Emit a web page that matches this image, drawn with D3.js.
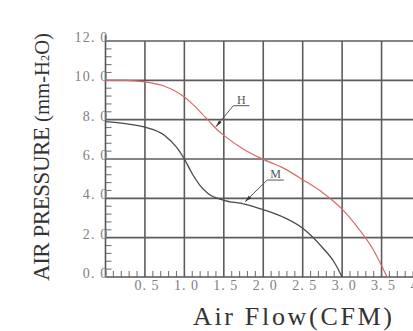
<!DOCTYPE html>
<html>
<head>
<meta charset="utf-8">
<script src="https://cdn.jsdelivr.net/npm/d3@7"></script>
<style>
  body { margin: 0; background: #fff; }
  svg { display: block; }
</style>
</head>
<body>
<div id="chart"></div>
<script>
// 曲线数据 (CFM, mm-H2O)
const flowH = [0, 0.25, 0.5, 0.75, 1.0, 1.1, 1.2, 1.3, 1.4, 1.5, 1.75, 2.0, 2.25, 2.5, 2.75, 3.0, 3.2, 3.4, 3.57];
const pressH = [10.0, 10.0, 9.92, 9.7, 9.15, 8.8, 8.4, 7.98, 7.55, 7.2, 6.5, 5.98, 5.55, 4.95, 4.3, 3.45, 2.5, 1.35, 0];

const flowM = [0, 0.25, 0.5, 0.75, 0.9, 1.0, 1.1, 1.2, 1.3, 1.5, 1.75, 2.0, 2.25, 2.5, 2.75, 2.9, 3.0];
const pressM = [7.9, 7.8, 7.62, 7.2, 6.6, 6.0, 5.25, 4.65, 4.25, 3.9, 3.72, 3.42, 3.05, 2.48, 1.5, 0.75, 0];

const xTicks = [0.5, 1.0, 1.5, 2.0, 2.5, 3.0, 3.5, 4.0];
const yTicks = [0, 2, 4, 6, 8, 10, 12];
const xTickLabels = ["0. 5", "1. 0", "1. 5", "2. 0", "2. 5", "3. 0", "3. 5", "4. 0"];
const yTickLabels = ["0. 0", "2. 0", "4. 0", "6. 0", "8. 0", "10. 0", "12. 0"];

// 标注: 箭头尖端, 折点, 下划线末端 (数据坐标)
const labelNames = ["H", "M"];
const labelTip = [[1.40, 7.64], [1.77, 3.83]];
const labelElbow = [[1.62, 8.71], [2.05, 4.93]];
const labelEnd = [1.825, 2.26];

const W = 413, H = 331;
const svg = d3.select("#chart").append("svg")
    .attr("width", W)
    .attr("height", H);

const x = d3.scaleLinear().domain([0, 4]).range([105.5, 421]);
const y = d3.scaleLinear().domain([0, 12]).range([277, 41]);

const gridColor = "#5c5c5c";

// 网格
svg.append("g")
    .selectAll("line")
    .data(yTicks.filter(d => d > 0))
    .join("line")
    .attr("x1", x(0)).attr("x2", x(4))
    .attr("y1", d => y(d)).attr("y2", d => y(d))
    .attr("stroke", gridColor)
    .attr("stroke-width", 1.6);

svg.append("g")
    .selectAll("line")
    .data(xTicks)
    .join("line")
    .attr("x1", d => x(d)).attr("x2", d => x(d))
    .attr("y1", y(12)).attr("y2", y(0))
    .attr("stroke", gridColor)
    .attr("stroke-width", 1.6);

// 小刻度
const xMinor = d3.range(1, 40).filter(i => i % 5 !== 0).map(i => i / 10);
svg.append("g")
    .selectAll("line")
    .data(xMinor)
    .join("line")
    .attr("x1", d => x(d)).attr("x2", d => x(d))
    .attr("y1", y(0)).attr("y2", y(0) - 6)
    .attr("stroke", "#777")
    .attr("stroke-width", 1.1);

const yMinor = d3.range(1, 30).filter(i => i % 5 !== 0).map(i => i * 0.4);
svg.append("g")
    .selectAll("line")
    .data(yMinor)
    .join("line")
    .attr("x1", x(0)).attr("x2", x(0) + 6)
    .attr("y1", d => y(d)).attr("y2", d => y(d))
    .attr("stroke", "#777")
    .attr("stroke-width", 1.1);

// 坐标轴
svg.append("line")
    .attr("x1", x(0)).attr("x2", x(0))
    .attr("y1", y(12) - 6).attr("y2", y(0))
    .attr("stroke", "#555")
    .attr("stroke-width", 1.6);
svg.append("line")
    .attr("x1", x(0)).attr("x2", x(4))
    .attr("y1", y(0)).attr("y2", y(0))
    .attr("stroke", "#555")
    .attr("stroke-width", 1.6);

// 刻度标签
const tickFont = "'Liberation Serif', 'DejaVu Serif', serif";
svg.append("g")
    .selectAll("text")
    .data(xTicks)
    .join("text")
    .attr("x", d => x(d) + 2)
    .attr("y", y(0) + 13)
    .attr("text-anchor", "middle")
    .attr("font-family", tickFont)
    .attr("font-size", 14)
    .attr("letter-spacing", 1)
    .attr("fill", "#808080")
    .text((d, i) => xTickLabels[i]);

svg.append("g")
    .selectAll("text")
    .data(yTicks)
    .join("text")
    .attr("x", x(0) + 3)
    .attr("y", d => y(d) + 1)
    .attr("text-anchor", "end")
    .attr("font-family", tickFont)
    .attr("font-size", 14)
    .attr("letter-spacing", 1.2)
    .attr("fill", "#808080")
    .text((d, i) => yTickLabels[i]);

// 曲线
const line = d3.line()
    .x(d => x(d[0]))
    .y(d => y(d[1]))
    .curve(d3.curveMonotoneX);

svg.append("path")
    .datum(d3.zip(flowM, pressM))
    .attr("d", line)
    .attr("fill", "none")
    .attr("stroke", "#4a4a4a")
    .attr("stroke-width", 1.3);

svg.append("path")
    .datum(d3.zip(flowH, pressH))
    .attr("d", line)
    .attr("fill", "none")
    .attr("stroke", "#d9696b")
    .attr("stroke-width", 1.2);

// 标注
labelNames.forEach((name, i) => {
    const tip = labelTip[i], elbow = labelElbow[i];
    const g = svg.append("g");
    g.append("polyline")
        .attr("points", [[x(tip[0]), y(tip[1])], [x(elbow[0]), y(elbow[1])], [x(labelEnd[i]), y(elbow[1])]].join(" "))
        .attr("fill", "none")
        .attr("stroke", "#555")
        .attr("stroke-width", 1);
    // 箭头尖
    const ang = Math.atan2(y(elbow[1]) - y(tip[1]), x(elbow[0]) - x(tip[0]));
    const tx = x(tip[0]), ty = y(tip[1]);
    g.append("path")
        .attr("d", "M" + tx + "," + ty +
            "L" + (tx + 7 * Math.cos(ang - 0.25)) + "," + (ty + 7 * Math.sin(ang - 0.25)) +
            "L" + (tx + 7 * Math.cos(ang + 0.25)) + "," + (ty + 7 * Math.sin(ang + 0.25)) + "Z")
        .attr("fill", "#333");
    g.append("text")
        .attr("x", (x(elbow[0]) + x(labelEnd[i])) / 2)
        .attr("y", y(elbow[1]) - 2)
        .attr("text-anchor", "middle")
        .attr("font-family", tickFont)
        .attr("font-size", 12)
        .attr("fill", "#555")
        .text(name);
});

// 轴标题
const titleFont = "'Liberation Serif', 'DejaVu Serif', serif";
svg.append("text")
    .attr("x", 193)
    .attr("y", 325)
    .attr("font-family", titleFont)
    .attr("font-size", 26)
    .attr("fill", "#333")
    .attr("textLength", 199)
    .attr("lengthAdjust", "spacing")
    .text("Air Flow(CFM)");

svg.append("text")
    .attr("transform", "translate(49,281) rotate(-90)")
    .attr("font-family", titleFont)
    .attr("font-size", 23)
    .attr("fill", "#333")
    .attr("textLength", 154)
    .attr("lengthAdjust", "spacing")
    .text("AIR PRESSURE");

const unit = svg.append("text")
    .attr("transform", "translate(49,122) rotate(-90)")
    .attr("font-family", titleFont)
    .attr("font-size", 22)
    .attr("fill", "#333")
    .attr("textLength", 89)
    .attr("lengthAdjust", "spacingAndGlyphs");
unit.append("tspan").text("(mm-H");
unit.append("tspan").attr("font-size", 13).text("2");
unit.append("tspan").text("O)");
</script>
</body>
</html>
